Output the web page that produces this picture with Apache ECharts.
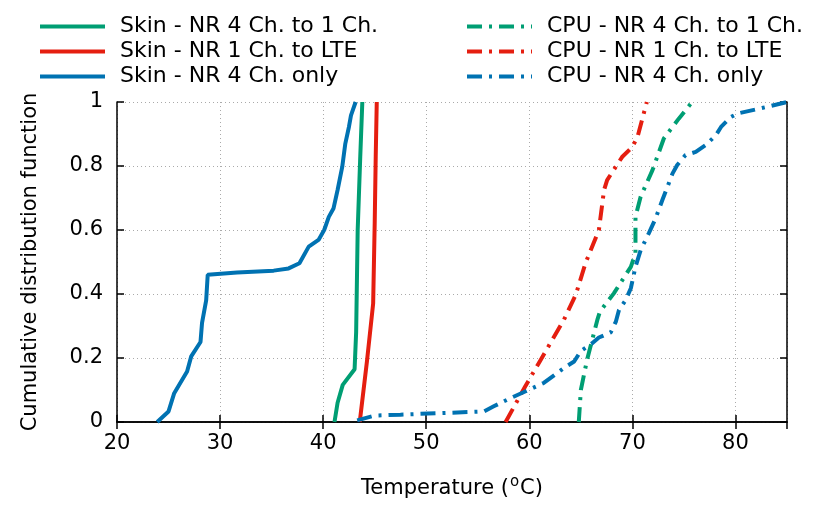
<!DOCTYPE html>
<html>
<head>
<meta charset="utf-8">
<script src="https://cdn.jsdelivr.net/npm/echarts@6/dist/echarts.min.js"></script>
<style>
  html, body { margin: 0; padding: 0; background: #fff; }
  #chart { width: 830px; height: 529px; }
</style>
</head>
<body>
<div id="chart"></div>
<script>
// x = temperature (oC), y = CDF
const skinNr4to1 = [[41.1, 0], [41.4, 0.06], [41.9, 0.116], [43.05, 0.165], [43.2, 0.28], [43.35, 0.6], [43.6, 0.83], [43.8, 1]]
const skinNr1toLte = [[43.55, 0], [44.25, 0.19], [44.85, 0.37], [45.0, 0.62], [45.1, 0.83], [45.2, 1]]
const skinNr4only = [[23.9, 0], [25.0, 0.033], [25.55, 0.09], [26.8, 0.158], [27.2, 0.205], [28.1, 0.25], [28.25, 0.31],
  [28.65, 0.38], [28.8, 0.46], [31.65, 0.467], [35.2, 0.473], [36.65, 0.48], [37.7, 0.496], [38.6, 0.548], [39.55, 0.569],
  [40.1, 0.6], [40.55, 0.641], [41.0, 0.667], [41.4, 0.725], [41.85, 0.797], [42.15, 0.87], [42.5, 0.922], [42.7, 0.958], [43.15, 1]]
const cpuNr4to1 = [[64.8, 0], [65.0, 0.1], [65.6, 0.194], [66.6, 0.319], [66.85, 0.345], [68.2, 0.402], [69.85, 0.485],
  [70.3, 0.527], [70.3, 0.641], [70.8, 0.704], [71.95, 0.787], [73.05, 0.886], [74.5, 0.948], [75.8, 1]]
const cpuNr1toLte = [[57.7, 0], [59.6, 0.111], [61.1, 0.194], [63.35, 0.319], [64.5, 0.397], [65.45, 0.496], [66.75, 0.6],
  [67.25, 0.725], [67.55, 0.756], [69.0, 0.828], [70.0, 0.86], [70.5, 0.891], [71.4, 1]]
const cpuNr4only = [[43.3, 0.005], [45.0, 0.02], [47.5, 0.023], [55.6, 0.033], [56.55, 0.049], [58.2, 0.075], [59.65, 0.096],
  [61.4, 0.122], [62.7, 0.153], [63.5, 0.172], [64.35, 0.189], [65.0, 0.222], [66.1, 0.246], [66.75, 0.264], [67.9, 0.28],
  [68.4, 0.314], [68.7, 0.35], [69.35, 0.381], [69.85, 0.418], [70.3, 0.485], [70.8, 0.537], [71.6, 0.59], [72.25, 0.636],
  [72.9, 0.693], [73.4, 0.735], [73.9, 0.777], [74.35, 0.803], [75.15, 0.834], [76.15, 0.844], [77.1, 0.865], [78.1, 0.896],
  [78.6, 0.922], [79.55, 0.953], [80.2, 0.964], [83.1, 0.985], [85, 1]]

const skinNames = ['Skin - NR 4 Ch. to 1 Ch.', 'Skin - NR 1 Ch. to LTE', 'Skin - NR 4 Ch. only']
const cpuNames = ['CPU - NR 4 Ch. to 1 Ch.', 'CPU - NR 1 Ch. to LTE', 'CPU - NR 4 Ch. only']

const green = '#009e73'
const red = '#e51e10'
const blue = '#0072b2'
const font = 'DejaVu Sans'
const dashDot = [15, 7, 3, 7]

const chart = echarts.init(document.getElementById('chart'))

function line(name, data, color, dashed) {
  return {
    name: name,
    type: 'line',
    data: data,
    symbol: 'none',
    showSymbol: false,
    color: color,
    lineStyle: { color: color, width: 4, type: dashed ? dashDot : 'solid', cap: 'butt' },
    emphasis: { disabled: true },
    animation: false
  }
}

const legendBase = {
  orient: 'vertical',
  top: 9,
  itemWidth: 65,
  itemHeight: 14,
  itemGap: 0,
  selectedMode: false,
  itemStyle: { opacity: 0 },
  lineStyle: { width: 4 },
  textStyle: { fontFamily: font, fontSize: 22, color: '#000', lineHeight: 25, padding: [0, 0, 0, 10] }
}

chart.setOption({
  animation: false,
  textStyle: { fontFamily: font },
  legend: [
    Object.assign({}, legendBase, { left: 33, data: skinNames }),
    Object.assign({}, legendBase, { left: 460, data: cpuNames })
  ],
  grid: { left: 117, right: 43, top: 102, bottom: 107 },
  xAxis: [{
    type: 'value',
    min: 20, max: 85, interval: 10,
    name: '{a|Temperature (}{sup|o}{a|C)}',
    nameLocation: 'middle',
    nameGap: 53,
    nameTextStyle: {
      rich: {
        a: { fontFamily: font, fontSize: 21, color: '#000' },
        sup: { fontFamily: font, fontSize: 15, color: '#000', padding: [0, 1, 12, 1] }
      }
    },
    axisLine: { show: true, lineStyle: { color: '#000', width: 1.5 } },
    axisTick: { inside: true, length: 7, lineStyle: { color: '#000', width: 1.5 } },
    axisLabel: { fontSize: 21, color: '#000', margin: 11, showMaxLabel: false },
    splitLine: { show: true, lineStyle: { color: '#aaa', type: [1, 3], width: 1 } }
  }, {
    type: 'value',
    position: 'top',
    min: 20, max: 85, interval: 10,
    axisLine: { show: true, lineStyle: { color: '#000', width: 1.5 } },
    axisTick: { inside: true, length: 7, lineStyle: { color: '#000', width: 1.5 } },
    axisLabel: { show: false },
    splitLine: { show: false }
  }],
  yAxis: [{
    type: 'value',
    min: 0, max: 1, interval: 0.2,
    name: 'Cumulative distribution function',
    nameLocation: 'middle',
    nameGap: 76,
    nameTextStyle: { fontFamily: font, fontSize: 21, color: '#000' },
    axisLine: { show: true, lineStyle: { color: '#000', width: 1.5 } },
    axisTick: { inside: true, length: 7, lineStyle: { color: '#000', width: 1.5 } },
    axisLabel: { fontSize: 21, color: '#000', margin: 14 },
    splitLine: { show: true, lineStyle: { color: '#aaa', type: [1, 3], width: 1 } }
  }, {
    type: 'value',
    position: 'right',
    min: 0, max: 1, interval: 0.2,
    axisLine: { show: true, lineStyle: { color: '#000', width: 1.5 } },
    axisTick: { inside: true, length: 7, lineStyle: { color: '#000', width: 1.5 } },
    axisLabel: { show: false },
    splitLine: { show: false }
  }],
  series: [
    line(skinNames[0], skinNr4to1, green, false),
    line(skinNames[1], skinNr1toLte, red, false),
    line(skinNames[2], skinNr4only, blue, false),
    line(cpuNames[0], cpuNr4to1, green, true),
    line(cpuNames[1], cpuNr1toLte, red, true),
    line(cpuNames[2], cpuNr4only, blue, true)
  ]
})
</script>
</body>
</html>
